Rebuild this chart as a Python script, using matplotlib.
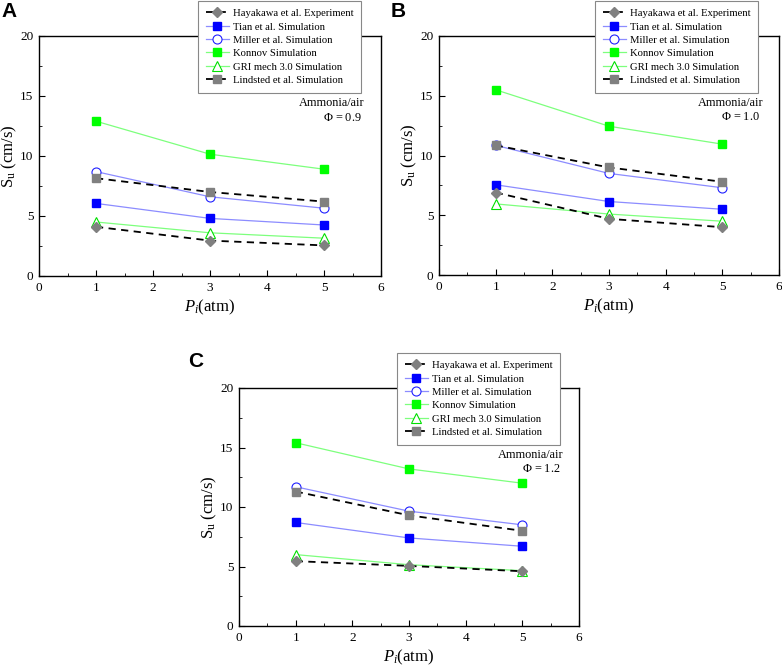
import matplotlib
matplotlib.use("Agg")
from matplotlib import pyplot as plt
import numpy as np

plt.rcParams["font.family"] = ["Liberation Serif", "DejaVu Serif"]
plt.rcParams["mathtext.fontset"] = "custom"
plt.rcParams["mathtext.rm"] = "Liberation Serif"
plt.rcParams["mathtext.it"] = "Liberation Serif:italic"

P = [1, 3, 5]

# burning velocity S_u (cm/s) for each panel
hayakawa_A = [4.1, 2.95, 2.55]
tian_A = [6.05, 4.8, 4.25]
miller_A = [8.7, 6.6, 5.65]
konnov_A = [12.9, 10.15, 8.9]
gri_A = [4.5, 3.6, 3.15]
lindsted_A = [8.15, 7.0, 6.2]

hayakawa_B = [6.9, 4.7, 4.0]
tian_B = [7.55, 6.15, 5.5]
miller_B = [10.85, 8.5, 7.3]
konnov_B = [15.5, 12.45, 10.95]
gri_B = [5.95, 5.1, 4.5]
lindsted_B = [10.85, 9.0, 7.8]

hayakawa_C = [5.45, 5.05, 4.6]
tian_C = [8.7, 7.4, 6.7]
miller_C = [11.7, 9.65, 8.5]
konnov_C = [15.4, 13.2, 12.0]
gri_C = [6.0, 5.15, 4.65]
lindsted_C = [11.3, 9.3, 8.0]

phi_labels = ["0.9", "1.0", "1.2"]
panel_letters = ["A", "B", "C"]

W, H = 782, 671
fig = plt.figure(figsize=(W / 100, H / 100), dpi=100)

# axes boxes in pixel coords: left, top, right, bottom
boxes = [(39, 36, 381, 276), (439, 36, 779, 275), (239, 388, 579, 626)]
legend_at = [(198, 1), (595, 1), (397, 353)]
letter_at = [(1, 2), (391, 2), (188, 352)]

data = [
    (hayakawa_A, tian_A, miller_A, konnov_A, gri_A, lindsted_A),
    (hayakawa_B, tian_B, miller_B, konnov_B, gri_B, lindsted_B),
    (hayakawa_C, tian_C, miller_C, konnov_C, gri_C, lindsted_C),
]

lblue = "#8c8cff"
lgreen = "#7dff7d"

for i in range(3):
    l, t, r, b = boxes[i]
    ax = fig.add_axes([l / W, 1 - b / H, (r - l) / W, (b - t) / H])
    hay, tian, mil, kon, gri, lin = data[i]

    ax.plot(P, hay, "--", color="black", lw=1.3, dashes=(4, 3), marker="D",
            ms=5.5, mfc="#808080", mec="#808080", label="Hayakawa et al. Experiment", zorder=4)
    ax.plot(P, tian, "-", color=lblue, lw=0.9, marker="s", ms=5.5,
            mfc="#0000ff", mec="#0000ff", label="Tian et al. Simulation")
    ax.plot(P, mil, "-", color=lblue, lw=0.9, marker="o", ms=6.5,
            mfc="white", mec="#2020ff", mew=0.8, label="Miller et al. Simulation")
    ax.plot(P, kon, "-", color=lgreen, lw=0.9, marker="s", ms=5.5,
            mfc="#00ff00", mec="#00ff00", label="Konnov Simulation")
    ax.plot(P, gri, "-", color=lgreen, lw=0.9, marker="^", ms=7,
            mfc="white", mec="#00e000", mew=0.8, label="GRI mech 3.0 Simulation")
    ax.plot(P, lin, "--", color="black", lw=1.3, dashes=(4, 3), marker="s",
            ms=5.5, mfc="#808080", mec="#808080", label="Lindsted et al. Simulation", zorder=4)

    ax.set_xlim(0, 6)
    ax.set_ylim(0, 20)
    ax.set_xticks(np.arange(0, 7, 1))
    ax.set_xticks(np.arange(0.5, 6, 1), minor=True)
    ax.set_yticks(np.arange(0, 21, 5))
    ax.set_yticks(np.arange(2.5, 20, 5), minor=True)
    ax.tick_params(direction="in", which="both", labelsize=9.5, top=False, right=False)
    ax.tick_params(which="major", length=4, pad=4)
    ax.tick_params(which="minor", length=2.5)
    for s in ax.spines.values():
        s.set_linewidth(1.0)

    ax.set_xlabel(r"$P_i$(atm)", fontsize=12, labelpad=3)
    ax.set_ylabel(r"S$_\mathrm{u}$ (cm/s)", fontsize=12, labelpad=0.5)

    ax.text(0.953, 0.72, "Ammonia/air", transform=ax.transAxes, ha="right",
            va="center", fontsize=8.8)
    ax.text(0.945, 0.66, r"$\mathit{\Phi}$ = " + phi_labels[i], transform=ax.transAxes,
            ha="right", va="center", fontsize=8.8)

    lx, ly = legend_at[i]
    leg = fig.legend(handles=ax.get_lines(), loc="upper left",
                     bbox_to_anchor=(lx / W, 1 - ly / H), fontsize=7.7,
                     frameon=True, fancybox=False, edgecolor="#888888",
                     framealpha=1, handlelength=2.2, handletextpad=0.35,
                     labelspacing=0.36, borderpad=0.72, borderaxespad=0,
                     numpoints=1)
    leg.get_frame().set_linewidth(0.8)

    fx, fy = letter_at[i]
    fig.text(fx / W, 1 - fy / H, panel_letters[i], fontsize=15, fontweight="bold",
             family="Liberation Sans", ha="left", va="top")

fig.savefig("out.png", dpi=100)
